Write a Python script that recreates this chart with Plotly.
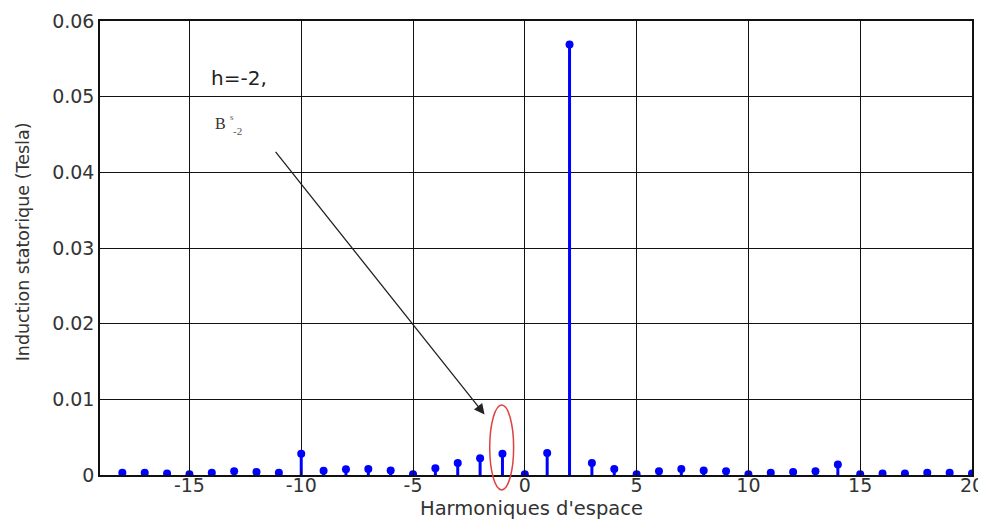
import plotly.graph_objects as go

harmonics = list(range(-18, 21))
induction = [0.0003, 0.0003, 0.0002, 0.0001, 0.0003, 0.0005, 0.0004, 0.0003,
             0.0028, 0.00057, 0.00075, 0.0008, 0.0006, 0.0001, 0.0009, 0.0016,
             0.0022, 0.0028, 0.0001, 0.0029, 0.0569, 0.0016, 0.0008, 0.0001,
             0.0005, 0.0008, 0.0006, 0.0005, 0.0001, 0.0003, 0.0004, 0.0005,
             0.0014, 0.0001, 0.0002, 0.0002, 0.0003, 0.0003, 0.0002]
x_ticks = [-15, -10, -5, 0, 5, 10, 15, 20]
x_tick_labels = ["-15", "-10", "-5", "0", "5", "10", "15", "20"]
y_ticks = [0, 0.01, 0.02, 0.03, 0.04, 0.05, 0.06]
y_tick_labels = ["0", "0.01", "0.02", "0.03", "0.04", "0.05", "0.06"]

blue = "#0000ff"
stem_x, stem_y = [], []
for h, v in zip(harmonics, induction):
    stem_x += [h, h, None]
    stem_y += [0, v, None]

fig = go.Figure()
fig.add_trace(go.Scatter(x=stem_x, y=stem_y, mode="lines",
                         line=dict(color=blue, width=3), hoverinfo="skip",
                         showlegend=False))
fig.add_trace(go.Scatter(x=harmonics, y=induction, mode="markers",
                         marker=dict(color=blue, size=8), showlegend=False))

fig.add_shape(type="circle", xref="x", yref="paper", x0=-1.57, x1=-0.5,
              y0=-0.033, y1=0.154, line=dict(color="#e04040", width=1.5))

fig.add_annotation(x=-1.8, y=0.0080, ax=-11.2, ay=0.0429, xref="x", yref="y",
                   axref="x", ayref="y", showarrow=True, arrowhead=2,
                   arrowsize=1.6, arrowwidth=1.3, arrowcolor="#222222", text="")
fig.add_annotation(x=-12.78, y=0.0525, xref="x", yref="y", text="h=-2,",
                   showarrow=False, font=dict(family="DejaVu Sans", size=20, color="#222"))
fig.add_annotation(x=-13.63, y=0.0465, xref="x", yref="y", text="B",
                   showarrow=False, font=dict(family="Liberation Serif", size=16, color="#333"))
fig.add_annotation(x=-13.08, y=0.0473, xref="x", yref="y", text="s",
                   showarrow=False, font=dict(family="Liberation Serif", size=9, color="#555"))
fig.add_annotation(x=-12.83, y=0.04546, xref="x", yref="y", text="-2",
                   showarrow=False, font=dict(family="Liberation Serif", size=11, color="#555"))

fig.add_annotation(x=0.495, y=-0.074, xref="paper", yref="paper",
                   xanchor="center", yanchor="middle",
                   text="Harmoniques d'espace", showarrow=False,
                   font=dict(family="DejaVu Sans", size=19.5, color="#333"))
fig.add_annotation(x=-0.088, y=0.513, xref="paper", yref="paper",
                   xanchor="center", yanchor="middle", textangle=-90,
                   text="Induction statorique (Tesla)", showarrow=False,
                   font=dict(family="DejaVu Sans", size=17.5, color="#333"))

axis_common = dict(showline=True, linecolor="#111", linewidth=1.5, mirror=True,
                   showgrid=True, gridcolor="#111", gridwidth=1.4,
                   ticks="inside", ticklen=5, tickcolor="#111", zeroline=False,
                   automargin=False, ticklabeloverflow="allow",
                   tickfont=dict(family="DejaVu Sans", size=19, color="#333"))

fig.update_xaxes(range=[-19, 20], tickvals=x_ticks, ticktext=x_tick_labels,
                 ticklabelstandoff=-8, **axis_common)
fig.update_yaxes(range=[0, 0.06], tickvals=y_ticks, ticktext=y_tick_labels, **axis_common)

# the page body adds an 8px offset, so the figure is sized to fit the window
fig.update_layout(width=978, height=511, margin=dict(l=92, r=14, t=13, b=44),
                  plot_bgcolor="white", paper_bgcolor="white")

fig.write_html("out.html")
